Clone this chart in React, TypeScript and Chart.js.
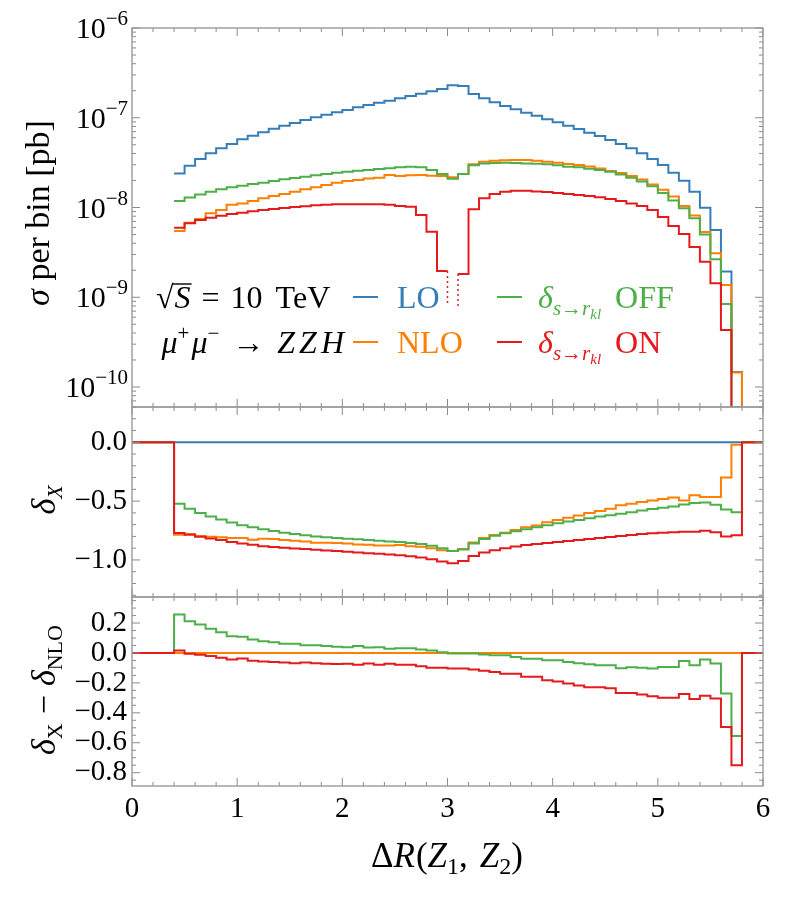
import React, { useEffect, useRef } from "react";
import { Chart, registerables } from "chart.js";
Chart.register(...registerables);

// ---------------- data ----------------
const binEdges = [
  0.0, 0.1, 0.2, 0.3, 0.4, 0.5, 0.6, 0.7, 0.8, 0.9,
  1.0, 1.1, 1.2, 1.3, 1.4, 1.5, 1.6, 1.7, 1.8, 1.9,
  2.0, 2.1, 2.2, 2.3, 2.4, 2.5, 2.6, 2.7, 2.8, 2.9,
  3.0, 3.1, 3.2, 3.3, 3.4, 3.5, 3.6, 3.7, 3.8, 3.9,
  4.0, 4.1, 4.2, 4.3, 4.4, 4.5, 4.6, 4.7, 4.8, 4.9,
  5.0, 5.1, 5.2, 5.3, 5.4, 5.5, 5.6, 5.7, 5.8, 5.9, 6.0,
];

// sigma per bin [pb] (null = no entry, 0 = vanishing)
const sigmaLO = [
  null, null, null, null,
  2.40e-8, 2.92e-8, 3.47e-8, 4.02e-8, 4.57e-8, 5.10e-8,
  5.75e-8, 6.31e-8, 6.89e-8, 7.55e-8, 8.15e-8, 8.75e-8, 9.44e-8, 1.01e-7, 1.08e-7, 1.15e-7,
  1.22e-7, 1.31e-7, 1.39e-7, 1.47e-7, 1.55e-7, 1.65e-7, 1.75e-7, 1.85e-7, 1.97e-7, 2.09e-7,
  2.30e-7, 2.26e-7, 1.84e-7, 1.65e-7, 1.49e-7, 1.35e-7, 1.24e-7, 1.14e-7, 1.05e-7, 9.61e-8,
  8.89e-8, 8.15e-8, 7.49e-8, 6.81e-8, 6.26e-8, 5.65e-8, 5.10e-8, 4.57e-8, 4.02e-8, 3.47e-8,
  2.98e-8, 2.44e-8, 1.99e-8, 1.50e-8, 9.95e-9, 5.61e-9, 1.93e-9, 1.47e-10,
  0, 0,
];
const sigmaNLO = [
  null, null, null, null,
  5.47e-9, 6.78e-9, 7.45e-9, 8.61e-9, 9.38e-9, 1.07e-8,
  1.11e-8, 1.18e-8, 1.27e-8, 1.34e-8, 1.41e-8, 1.50e-8, 1.60e-8, 1.68e-8, 1.78e-8, 1.89e-8,
  1.97e-8, 2.02e-8, 2.11e-8, 2.15e-8, 2.30e-8, 2.24e-8, 2.29e-8, 2.30e-8, 2.26e-8, 2.24e-8,
  2.17e-8, 2.36e-8, 3.03e-8, 3.24e-8, 3.32e-8, 3.36e-8, 3.38e-8, 3.38e-8, 3.32e-8, 3.24e-8,
  3.16e-8, 3.05e-8, 2.98e-8, 2.86e-8, 2.72e-8, 2.55e-8, 2.42e-8, 2.25e-8, 2.05e-8, 1.80e-8,
  1.58e-8, 1.33e-8, 1.04e-8, 8.15e-9, 5.35e-9, 3.10e-9, 1.37e-9, 1.45e-10,
  0, 0,
];
const sigmaOFF = [
  null, null, null, null,
  1.18e-8, 1.29e-8, 1.40e-8, 1.50e-8, 1.60e-8, 1.68e-8,
  1.75e-8, 1.83e-8, 1.89e-8, 1.97e-8, 2.06e-8, 2.13e-8, 2.20e-8, 2.29e-8, 2.36e-8, 2.44e-8,
  2.51e-8, 2.57e-8, 2.62e-8, 2.69e-8, 2.74e-8, 2.81e-8, 2.85e-8, 2.81e-8, 2.62e-8, 2.36e-8,
  2.09e-8, 2.36e-8, 2.95e-8, 3.10e-8, 3.13e-8, 3.16e-8, 3.13e-8, 3.10e-8, 3.08e-8, 3.03e-8,
  2.95e-8, 2.85e-8, 2.81e-8, 2.71e-8, 2.62e-8, 2.51e-8, 2.33e-8, 2.15e-8, 1.95e-8, 1.72e-8,
  1.45e-8, 1.20e-8, 9.8e-9, 7.6e-9, 5.0e-9, 2.65e-9, 8.4e-10, 6.0e-11,
  0, 0,
];
const sigmaON = [
  null, null, null, null,
  5.96e-9, 6.67e-9, 7.26e-9, 7.70e-9, 8.11e-9, 8.47e-9,
  8.76e-9, 9.08e-9, 9.38e-9, 9.62e-9, 9.87e-9, 1.01e-8, 1.03e-8, 1.06e-8, 1.07e-8, 1.09e-8,
  1.09e-8, 1.09e-8, 1.09e-8, 1.09e-8, 1.07e-8, 1.04e-8, 1.02e-8, 8.24e-9, 5.37e-9, 1.96e-9,
  null, 1.82e-9, 9.55e-9, 1.27e-8, 1.41e-8, 1.50e-8, 1.54e-8, 1.54e-8, 1.51e-8, 1.49e-8,
  1.45e-8, 1.41e-8, 1.38e-8, 1.34e-8, 1.30e-8, 1.24e-8, 1.18e-8, 1.11e-8, 1.04e-8, 9.38e-9,
  7.84e-9, 6.22e-9, 5.07e-9, 3.63e-9, 2.49e-9, 1.43e-9, 4.32e-10, 3.0e-11,
  0, 0,
];
// negative ON bin (3.0-3.1) marked with dotted edges down to this value
const onNegativeMarkerEnd = 8.0e-10;

// delta_X
const deltaLO = [
  0, 0, 0, 0, 0, 0, 0, 0, 0, 0, 0, 0, 0, 0, 0, 0, 0, 0, 0, 0,
  0, 0, 0, 0, 0, 0, 0, 0, 0, 0, 0, 0, 0, 0, 0, 0, 0, 0, 0, 0,
  0, 0, 0, 0, 0, 0, 0, 0, 0, 0, 0, 0, 0, 0, 0, 0, 0, 0, 0, 0,
];
const deltaNLO = [
  0, 0, 0, 0,
  -0.785, -0.78, -0.797, -0.803, -0.808, -0.814,
  -0.814, -0.828, -0.82, -0.823, -0.831, -0.837, -0.843, -0.854, -0.854, -0.857,
  -0.86, -0.868, -0.871, -0.877, -0.877, -0.874, -0.883, -0.888, -0.9, -0.917,
  -0.923, -0.908, -0.851, -0.814, -0.788, -0.768, -0.745, -0.722, -0.708, -0.68,
  -0.66, -0.642, -0.622, -0.602, -0.585, -0.565, -0.536, -0.522, -0.508, -0.494,
  -0.482, -0.47, -0.494, -0.451, -0.465, -0.465, -0.299, -0.021,
  0, 0,
];
const deltaOFF = [
  0, 0, 0, 0,
  -0.522, -0.565, -0.602, -0.631, -0.657, -0.682,
  -0.705, -0.722, -0.74, -0.754, -0.768, -0.78, -0.791, -0.8, -0.808, -0.814,
  -0.82, -0.825, -0.831, -0.837, -0.843, -0.848, -0.857, -0.865, -0.88, -0.9,
  -0.925, -0.911, -0.86, -0.823, -0.794, -0.774, -0.757, -0.74, -0.722, -0.705,
  -0.688, -0.674, -0.66, -0.645, -0.631, -0.62, -0.608, -0.594, -0.579, -0.568,
  -0.557, -0.545, -0.528, -0.517, -0.511, -0.531, -0.571, -0.594,
  0, 0,
];
const deltaON = [
  0, 0, 0, 0,
  -0.771, -0.785, -0.803, -0.817, -0.831, -0.848,
  -0.86, -0.871, -0.883, -0.891, -0.897, -0.903, -0.908, -0.914, -0.92, -0.925,
  -0.931, -0.937, -0.943, -0.948, -0.954, -0.96, -0.968, -0.98, -0.994, -1.014,
  -1.029, -1.009, -0.966, -0.937, -0.917, -0.9, -0.886, -0.874, -0.865, -0.857,
  -0.848, -0.84, -0.831, -0.823, -0.814, -0.805, -0.797, -0.788, -0.78, -0.774,
  -0.768, -0.765, -0.76, -0.76, -0.751, -0.765, -0.8, -0.791,
  0, 0,
];

// delta_X - delta_NLO
const diffNLO = [
  0, 0, 0, 0, 0, 0, 0, 0, 0, 0, 0, 0, 0, 0, 0, 0, 0, 0, 0, 0,
  0, 0, 0, 0, 0, 0, 0, 0, 0, 0, 0, 0, 0, 0, 0, 0, 0, 0, 0, 0,
  0, 0, 0, 0, 0, 0, 0, 0, 0, 0, 0, 0, 0, 0, 0, 0, 0, 0, 0, 0,
];
const diffOFF = [
  0, 0, 0, 0,
  0.257, 0.212, 0.19, 0.161, 0.139, 0.112,
  0.108, 0.09, 0.079, 0.072, 0.061, 0.061, 0.052, 0.052, 0.046, 0.041,
  0.039, 0.046, 0.037, 0.039, 0.028, 0.032, 0.032, 0.023, 0.017, 0.004,
  -0.003, -0.004, -0.004, -0.011, -0.016, -0.016, -0.027, -0.038, -0.038, -0.049,
  -0.049, -0.06, -0.069, -0.076, -0.082, -0.082, -0.102, -0.096, -0.098, -0.104,
  -0.093, -0.093, -0.053, -0.082, -0.044, -0.071, -0.271, -0.555,
  0, 0,
];
const diffON = [
  0, 0, 0, 0,
  0.017, -0.006, -0.012, -0.021, -0.032, -0.043,
  -0.037, -0.052, -0.057, -0.061, -0.063, -0.068, -0.063, -0.068, -0.072, -0.074,
  -0.072, -0.079, -0.07, -0.079, -0.072, -0.079, -0.079, -0.088, -0.099, -0.099,
  -0.103, -0.103, -0.11, -0.119, -0.128, -0.139, -0.139, -0.159, -0.159, -0.182,
  -0.191, -0.204, -0.218, -0.229, -0.229, -0.236, -0.267, -0.267, -0.278, -0.29,
  -0.299, -0.299, -0.274, -0.308, -0.286, -0.304, -0.495, -0.75,
  0, 0,
];

// tick labels
const xTickLabels = [0, 1, 2, 3, 4, 5, 6];
const topDecades = [-10, -9, -8, -7, -6];
const midTickLabels = [0, -0.5, -1.0];
const botTickLabels = [0.2, 0, -0.2, -0.4, -0.6, -0.8];

// ---------------- styling ----------------
const BLUE = "#377EB8";
const ORANGE = "#FF7F00";
const GREEN = "#4DAF4A";
const RED = "#E41A1C";
const FONT = "'Liberation Serif', 'DejaVu Serif', serif";
const FRAME = "#9a9a9a";
const TICKC = "#8a8a8a";
const W = 797;
const H = 897;
const LEFT = 132;
const RIGHT_PAD = W - 763;
const TOP_Y = 28, SPLIT1 = 407, SPLIT2 = 597, BOT_Y = 786;
const X_AXIS_H = 40;
const LOG_MIN = Math.pow(10, -6 - (SPLIT1 - TOP_Y) / 89.75);
const LOG_MAX = 1e-6;
const TICK_SIZE = 29;

type Seg = { t: string; s: number; i?: boolean; dy?: number; over?: boolean; gap?: number };
const fontStr = (s: number, i?: boolean) => `${i ? "italic " : ""}${s}px ${FONT}`;
const G = (gap: number): Seg => ({ t: "", s: 10, gap });
function segW(ctx: CanvasRenderingContext2D, g: Seg) {
  if (g.gap !== undefined) return g.gap;
  ctx.font = fontStr(g.s, g.i);
  return ctx.measureText(g.t).width;
}
function richWidth(ctx: CanvasRenderingContext2D, segs: Seg[]) {
  let w = 0;
  for (const g of segs) w += segW(ctx, g);
  return w;
}
function drawRich(ctx: CanvasRenderingContext2D, segs: Seg[], x: number, y: number, align: string, color: string) {
  const w = richWidth(ctx, segs);
  let cx = align === "left" ? x : align === "right" ? x - w : x - w / 2;
  ctx.fillStyle = color;
  ctx.strokeStyle = color;
  ctx.textAlign = "left";
  ctx.textBaseline = "alphabetic";
  for (const g of segs) {
    const sw = segW(ctx, g);
    if (g.gap === undefined) {
      ctx.font = fontStr(g.s, g.i);
      ctx.fillText(g.t, cx, y + (g.dy || 0));
      if (g.over) {
        ctx.lineWidth = 1.4;
        ctx.beginPath();
        ctx.moveTo(cx - 2, y - g.s * 0.75);
        ctx.lineTo(cx + sw + 1, y - g.s * 0.75);
        ctx.stroke();
      }
    }
    cx += sw;
  }
}
function drawRotated(ctx: CanvasRenderingContext2D, segs: Seg[], cx: number, cy: number, color: string) {
  ctx.save();
  ctx.translate(cx, cy);
  ctx.rotate(-Math.PI / 2);
  drawRich(ctx, segs, 0, 11, "center", color);
  ctx.restore();
}

function histPoints(vals: (number | null)[], zeroAs?: number) {
  const pts: { x: number; y: number | null }[] = [];
  vals.forEach((v, i) => {
    let y: number | null = v;
    if (v === 0 && zeroAs !== undefined) y = zeroAs;
    pts.push({ x: binEdges[i], y }, { x: binEdges[i + 1], y });
  });
  return pts;
}

const lineDs = (label: string, data: any, color: string, extra: any = {}) => ({
  label, data, borderColor: color, backgroundColor: color, borderWidth: 2,
  pointRadius: 0, fill: false, tension: 0, spanGaps: false, ...extra,
});

// ticks for frames
const xMinor: number[] = [];
for (let i = 0; i <= 30; i++) if (i % 5 !== 0) xMinor.push(i / 5);
const logMajor = topDecades.map((d) => Math.pow(10, d));
const logMinor: number[] = [];
for (let n = -11; n <= -7; n++) for (let k = 2; k <= 9; k++) {
  const v = k * Math.pow(10, n);
  if (v > LOG_MIN && v < LOG_MAX) logMinor.push(v);
}
const midMinor: number[] = [];
for (let i = -13; i <= 3; i++) if (i % 5 !== 0) midMinor.push(i / 10);
const botMinor: number[] = [];
for (let i = -17; i <= 7; i++) if (i % 4 !== 0) botMinor.push(i / 20);

function decoPlugin(yMajor: number[], yMinor: number[], extra: (ctx: CanvasRenderingContext2D, chart: any) => void) {
  return {
    id: "deco",
    afterDraw(chart: any) {
      const { ctx, chartArea: a, scales } = chart;
      const xs = scales.x, ys = scales.y;
      ctx.save();
      ctx.strokeStyle = TICKC;
      ctx.lineWidth = 1;
      ctx.beginPath();
      const xt = (v: number, len: number) => {
        const p = xs.getPixelForValue(v);
        ctx.moveTo(p, a.bottom); ctx.lineTo(p, a.bottom - len);
        ctx.moveTo(p, a.top); ctx.lineTo(p, a.top + len);
      };
      const yt = (v: number, len: number) => {
        const p = ys.getPixelForValue(v);
        ctx.moveTo(a.left, p); ctx.lineTo(a.left + len, p);
        ctx.moveTo(a.right, p); ctx.lineTo(a.right - len, p);
      };
      xTickLabels.forEach((v) => xt(v, 8));
      xMinor.forEach((v) => xt(v, 4));
      yMajor.forEach((v) => yt(v, 8));
      yMinor.forEach((v) => yt(v, 4));
      ctx.stroke();
      ctx.strokeStyle = FRAME;
      ctx.lineWidth = 1.4;
      ctx.strokeRect(a.left, a.top, a.right - a.left, a.bottom - a.top);
      extra(ctx, chart);
      ctx.restore();
    },
  };
}

const fmtTick = (v: number) => (v < 0 ? "\u2212" : "") + Math.abs(v).toFixed(1);

function baseOptions(yScale: any, padTop: number, padBottom: number, showX: boolean) {
  return {
    responsive: false,
    animation: false,
    events: [],
    layout: { padding: { left: 0, right: RIGHT_PAD, top: padTop, bottom: padBottom } },
    plugins: { legend: { display: false }, tooltip: { enabled: false } },
    scales: {
      x: {
        type: "linear", min: 0, max: 6, display: showX, position: "bottom",
        grid: { display: false, drawTicks: false }, border: { display: false },
        afterBuildTicks: (ax: any) => { ax.ticks = xTickLabels.map((v) => ({ value: v })); },
        ticks: {
          autoSkip: false, maxRotation: 0, padding: 6, color: "#000",
          font: { family: FONT, size: TICK_SIZE },
          callback: (v: any) => String(v),
        },
        afterFit: (ax: any) => { ax.height = showX ? X_AXIS_H : 0; },
      },
      y: {
        grid: { display: false, drawTicks: false }, border: { display: false },
        afterFit: (ax: any) => { ax.width = LEFT; },
        ...yScale,
      },
    },
  };
}

export default function App() {
  const r1 = useRef<HTMLCanvasElement>(null);
  const r2 = useRef<HTMLCanvasElement>(null);
  const r3 = useRef<HTMLCanvasElement>(null);

  useEffect(() => {
    const zeroLog = LOG_MIN / 100;
    // ---------- top panel ----------
    const topExtra = (ctx: CanvasRenderingContext2D, chart: any) => {
      const ys = chart.scales.y;
      topDecades.forEach((d) => {
        const p = ys.getPixelForValue(Math.pow(10, d));
        drawRich(ctx, [{ t: "10", s: TICK_SIZE + 1 }, { t: "\u2212" + Math.abs(d), s: 21, dy: -13 }], 128, p + 10, "right", "#000");
      });
      drawRotated(ctx, [{ t: "\u03c3", s: 34, i: true }, { t: " per bin [pb]", s: 34 }], 38, 213, "#000");
      // legend
      const r1y = 297, r2y = 342, fs = 32;
      drawRich(ctx, [
        { t: "\u221a", s: fs }, G(1), { t: "S", s: fs, i: true, over: true }, G(11),
        { t: "=", s: fs }, G(11), { t: "10", s: fs }, G(13), { t: "TeV", s: fs },
      ], 156, r1y + 11, "left", "#000");
      drawRich(ctx, [
        { t: "\u03bc", s: fs, i: true }, { t: "+", s: 21, dy: -13 }, G(2),
        { t: "\u03bc", s: fs, i: true }, { t: "\u2212", s: 21, dy: -13 },
        G(13), { t: "\u2192", s: fs }, G(13),
        { t: "Z", s: fs, i: true }, G(4), { t: "Z", s: fs, i: true }, G(4), { t: "H", s: fs, i: true },
      ], 344, r2y + 11, "right", "#000");
      const dash = (x0: number, y: number, c: string) => {
        ctx.strokeStyle = c; ctx.lineWidth = 2; ctx.beginPath();
        ctx.moveTo(x0, y); ctx.lineTo(x0 + 25, y); ctx.stroke();
      };
      dash(353, r1y, BLUE); dash(353, r2y, ORANGE); dash(497, r1y, GREEN); dash(497, r2y, RED);
      drawRich(ctx, [{ t: "LO", s: fs }], 397, r1y + 11, "left", BLUE);
      drawRich(ctx, [{ t: "NLO", s: fs }], 397, r2y + 11, "left", ORANGE);
      const delta = (suffix: string): Seg[] => [
        { t: "\u03b4", s: fs, i: true }, { t: "s\u2192r", s: 21, i: true, dy: 7 },
        { t: "kl", s: 15, i: true, dy: 11 }, G(14), { t: suffix, s: fs },
      ];
      drawRich(ctx, delta("OFF"), 538, r1y + 11, "left", GREEN);
      drawRich(ctx, delta("ON"), 538, r2y + 11, "left", RED);
    };
    const c1 = new Chart(r1.current!, {
      type: "line",
      data: {
        datasets: [
          lineDs("ON", histPoints(sigmaON, zeroLog), RED),
          lineDs("ON negative bin (left edge)", [
            { x: binEdges[30], y: sigmaON[29] }, { x: binEdges[30], y: onNegativeMarkerEnd },
          ], RED, { borderWidth: 1.5, borderDash: [2, 3] }),
          lineDs("ON negative bin (right edge)", [
            { x: binEdges[31], y: sigmaON[31] }, { x: binEdges[31], y: onNegativeMarkerEnd },
          ], RED, { borderWidth: 1.5, borderDash: [2, 3] }),
          lineDs("OFF", histPoints(sigmaOFF, zeroLog), GREEN),
          lineDs("NLO", histPoints(sigmaNLO, zeroLog), ORANGE),
          lineDs("LO", histPoints(sigmaLO, zeroLog), BLUE),
        ],
      },
      options: baseOptions({ type: "logarithmic", min: LOG_MIN, max: LOG_MAX, ticks: { display: false } }, TOP_Y, H - SPLIT1, false) as any,
      plugins: [decoPlugin(logMajor, logMinor, topExtra)],
    });

    // ---------- middle panel ----------
    const midExtra = (ctx: CanvasRenderingContext2D) => {
      drawRotated(ctx, [{ t: "\u03b4", s: 34, i: true }, { t: "X", s: 22, i: true, dy: 7 }], 44, 500, "#000");
    };
    const c2 = new Chart(r2.current!, {
      type: "line",
      data: {
        datasets: [
          lineDs("ON", histPoints(deltaON), RED),
          lineDs("OFF", histPoints(deltaOFF), GREEN),
          lineDs("NLO", histPoints(deltaNLO), ORANGE),
          lineDs("LO", histPoints(deltaLO), BLUE),
        ],
      },
      options: baseOptions({
        type: "linear", min: -1.315, max: 0.3,
        afterBuildTicks: (ax: any) => { ax.ticks = midTickLabels.map((v) => ({ value: v })); },
        ticks: { autoSkip: false, padding: 5, color: "#000", font: { family: FONT, size: TICK_SIZE }, callback: (v: any) => fmtTick(v) },
      }, SPLIT1, H - SPLIT2, false) as any,
      plugins: [decoPlugin(midTickLabels, midMinor, midExtra)],
    });

    // ---------- bottom panel ----------
    const botExtra = (ctx: CanvasRenderingContext2D) => {
      drawRotated(ctx, [
        { t: "\u03b4", s: 34, i: true }, { t: "X", s: 22, dy: 7 }, G(9), { t: "\u2212", s: 34 }, G(9),
        { t: "\u03b4", s: 34, i: true }, { t: "NLO", s: 22, dy: 7 },
      ], 44, 690, "#000");
      drawRich(ctx, [
        { t: "\u0394", s: 35 }, { t: "R", s: 35, i: true }, G(1), { t: "(", s: 35 },
        { t: "Z", s: 35, i: true }, { t: "1", s: 24, dy: 7 }, { t: ",", s: 35 }, G(12),
        { t: "Z", s: 35, i: true }, { t: "2", s: 24, dy: 7 }, { t: ")", s: 35 },
      ], 447, 867, "center", "#000");
    };
    const c3 = new Chart(r3.current!, {
      type: "line",
      data: {
        datasets: [
          lineDs("ON", histPoints(diffON), RED),
          lineDs("OFF", histPoints(diffOFF), GREEN),
          lineDs("NLO", histPoints(diffNLO), ORANGE),
        ],
      },
      options: baseOptions({
        type: "linear", min: -0.889, max: 0.374,
        afterBuildTicks: (ax: any) => { ax.ticks = botTickLabels.map((v) => ({ value: v })); },
        ticks: { autoSkip: false, padding: 5, color: "#000", font: { family: FONT, size: TICK_SIZE }, callback: (v: any) => fmtTick(v) },
      }, SPLIT2, H - BOT_Y - X_AXIS_H, true) as any,
      plugins: [decoPlugin(botTickLabels, botMinor, botExtra)],
    });

    return () => { c1.destroy(); c2.destroy(); c3.destroy(); };
  }, []);

  const cs: React.CSSProperties = { position: "absolute", left: 0, top: 0, width: W + "px", height: H + "px" };
  return (
    <div style={{ position: "fixed", left: 0, top: 0, width: W, height: H, background: "#fff" }}>
      <canvas ref={r1} width={W} height={H} style={cs} />
      <canvas ref={r2} width={W} height={H} style={cs} />
      <canvas ref={r3} width={W} height={H} style={cs} />
    </div>
  );
}
